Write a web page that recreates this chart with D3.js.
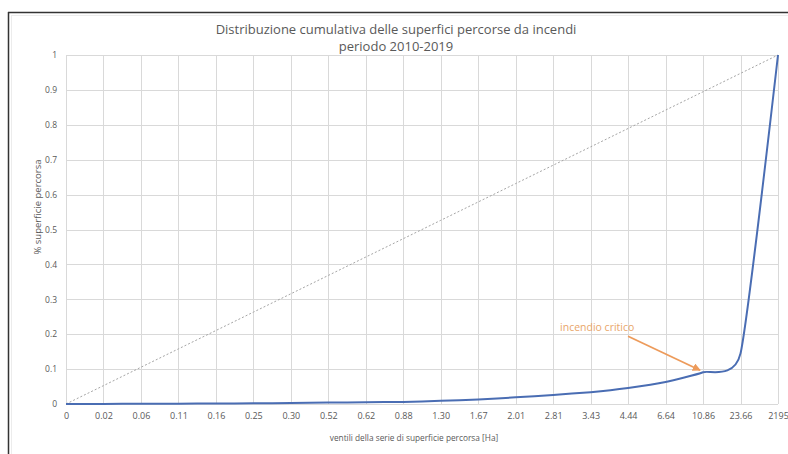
<!DOCTYPE html>
<html><head><meta charset="utf-8">
<script src="https://cdn.jsdelivr.net/npm/d3@7/dist/d3.min.js"></script>
<style>body{margin:0;background:#fff}svg{display:block}</style>
</head><body><svg id="c" width="788" height="454"></svg>
<script>
const categories = ["0","0.02","0.06","0.11","0.16","0.25","0.30","0.52","0.62","0.88","1.30","1.67","2.01","2.81","3.43","4.44","6.64","10.86","23.66","2195"];
const cumulative = [0,0.0002,0.0006,0.001,0.0015,0.002,0.003,0.004,0.005,0.006,0.009,0.013,0.019,0.026,0.034,0.046,0.063,0.091,0.145,1];
const uniform = [0,0.0526,0.1053,0.1579,0.2105,0.2632,0.3158,0.3684,0.4211,0.4737,0.5263,0.5789,0.6316,0.6842,0.7368,0.7895,0.8421,0.8947,0.9474,1];
const yTicks = [0,0.1,0.2,0.3,0.4,0.5,0.6,0.7,0.8,0.9,1];
const titleLines = ["Distribuzione cumulativa delle superfici percorse da incendi","periodo 2010-2019"];
const annotation = {label:"incendio critico", category:"10.86"};

const svg = d3.select("#c");
const font = "'Open Sans', sans-serif";
const L=66, R=778, T=55, B=404;
const x = d3.scalePoint().domain(categories).range([L,R]);
const y = d3.scaleLinear().domain([0,1]).range([B,T]);

// frame
svg.append("line").attr("x1",8.5).attr("x2",8.5).attr("y1",12).attr("y2",454).attr("stroke","#333").attr("stroke-width",1.5);
svg.append("line").attr("x1",8).attr("x2",788).attr("y1",12.5).attr("y2",12.5).attr("stroke","#333").attr("stroke-width",1.5);
svg.append("rect").attr("x",11.5).attr("y",15.5).attr("width",790).attr("height",450).attr("fill","none").attr("stroke","#ececec");

// gridlines
const g = svg.append("g");
g.selectAll(".hy").data(yTicks).join("line")
 .attr("x1",L).attr("x2",R).attr("y1",d=>Math.round(y(d))+0.5).attr("y2",d=>Math.round(y(d))+0.5)
 .attr("stroke","#d9d9d9");
g.selectAll(".vx").data(categories).join("line")
 .attr("x1",d=>Math.round(x(d))+0.5).attr("x2",d=>Math.round(x(d))+0.5).attr("y1",T).attr("y2",B)
 .attr("stroke","#d9d9d9");

// axes labels
const yAxis = d3.axisLeft(y).tickValues(yTicks).tickSize(0).tickPadding(9).tickFormat(d=>d3.format("")(+d.toFixed(1)));
const ya = svg.append("g").attr("transform",`translate(${L},0)`).call(yAxis);
ya.select(".domain").remove();
ya.selectAll("text").attr("font-family",font).attr("font-size",8.5).attr("fill","#595959");
const xAxis = d3.axisBottom(x).tickSize(0).tickPadding(9);
const xa = svg.append("g").attr("transform",`translate(0,${B})`).call(xAxis);
xa.select(".domain").remove();
xa.selectAll("text").attr("font-family",font).attr("font-size",9).attr("fill","#595959");

// diagonal
svg.append("path").datum(uniform)
 .attr("d",d3.line().x((d,i)=>x(categories[i])).y(d=>y(d)))
 .attr("fill","none").attr("stroke","#a5a5a5").attr("stroke-width",1).attr("stroke-dasharray","2,2");

// curve
svg.append("path").datum(cumulative)
 .attr("d",d3.line().x((d,i)=>x(categories[i])).y(d=>y(d)).curve(d3.curveCardinal.tension(0.5)))
 .attr("fill","none").attr("stroke","#4a6db3").attr("stroke-width",2);

// titles
svg.selectAll(".t").data(titleLines).join("text")
 .attr("x",396).attr("y",(d,i)=>34+i*17).attr("text-anchor","middle")
 .attr("font-family",font).attr("font-size",13).attr("fill","#595959").text(d=>d);
svg.append("text").attr("transform","translate(41,207) rotate(-90)").attr("text-anchor","middle")
 .attr("font-family",font).attr("font-size",9.5).attr("fill","#595959").text("% superficie percorsa");
svg.append("text").attr("x",414).attr("y",441).attr("text-anchor","middle")
 .attr("font-family",font).attr("font-size",8.3).attr("fill","#595959").text("ventili della serie di superficie percorsa [Ha]");

// annotation
const ai = categories.indexOf(annotation.category);
const ax = x(annotation.category), ay = y(cumulative[ai]);
svg.append("defs").append("marker").attr("id","ah").attr("viewBox","0 0 10 10").attr("refX",9).attr("refY",5)
 .attr("markerWidth",4.5).attr("markerHeight",4.5).attr("orient","auto")
 .append("path").attr("d","M0,0L10,5L0,10z").attr("fill","#ED9B5B");
svg.append("line").attr("x1",ax-75).attr("y1",ay-36).attr("x2",ax-3).attr("y2",ay-2)
 .attr("stroke","#ED9B5B").attr("stroke-width",1.8).attr("marker-end","url(#ah)");
svg.append("text").attr("x",ax-143).attr("y",ay-41).attr("font-family",font).attr("font-size",10.5)
 .attr("fill","#E9A66A").text(annotation.label);
</script></body></html>
